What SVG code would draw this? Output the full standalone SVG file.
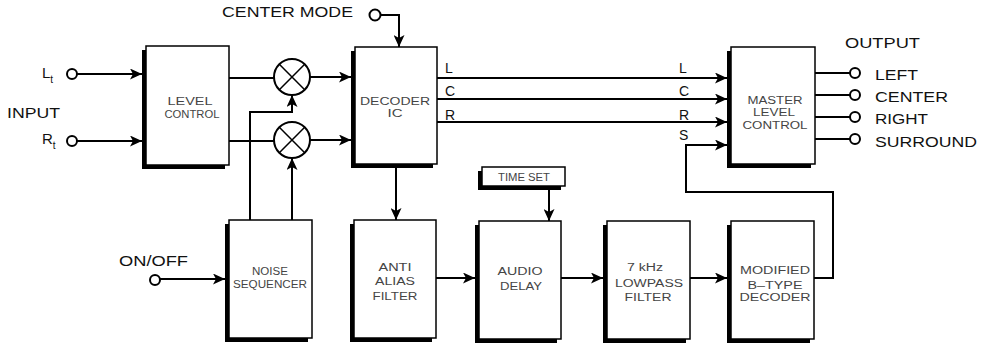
<svg xmlns="http://www.w3.org/2000/svg" width="986" height="346" viewBox="0 0 986 346">
<defs>
<marker id="ar" markerUnits="userSpaceOnUse" markerWidth="13" markerHeight="11" refX="12" refY="5.5" orient="auto">
<path d="M0,0 L12,5.5 L0,11 L3,5.5 z" fill="#000"/>
</marker>
</defs>
<style>
.sh{fill:#000}
.bx{fill:#fff;stroke:#000;stroke-width:1.5}
.w{fill:none;stroke:#000;stroke-width:2}
.a{fill:none;stroke:#000;stroke-width:2;marker-end:url(#ar)}
.t{font-family:"Liberation Sans",Arial,sans-serif;font-size:15px;fill:#111}
.s{font-family:"Liberation Sans",Arial,sans-serif;font-size:14px;fill:#111}
.b{font-family:"Liberation Sans",Arial,sans-serif;font-size:10px;fill:#444;text-anchor:middle}
.term{fill:#fff;stroke:#000;stroke-width:2}
</style>
<rect width="986" height="346" fill="#fff"/>

<g id="connectors">
<line class="a" x1="77" y1="74" x2="142" y2="74"/>
<line class="a" x1="77" y1="141" x2="142" y2="141"/>
<line class="w" x1="229" y1="78" x2="274" y2="78"/>
<line class="w" x1="229" y1="141" x2="274" y2="141"/>
<line class="a" x1="310" y1="77" x2="351" y2="77"/>
<line class="a" x1="310" y1="140" x2="351" y2="140"/>
<polyline class="a" points="250,220 250,112 292,112 292,95"/>
<line class="a" x1="292" y1="220" x2="292" y2="158"/>
<polyline class="a" points="381,15 399,15 399,47"/>
<line class="a" x1="437" y1="78" x2="727" y2="78"/>
<line class="a" x1="437" y1="99" x2="727" y2="99"/>
<line class="a" x1="437" y1="122" x2="727" y2="122"/>
<polyline class="a" points="814,278 833,278 833,192 686,192 686,145 727,145"/>
<line class="w" x1="815" y1="73" x2="850" y2="73"/>
<line class="w" x1="815" y1="95" x2="850" y2="95"/>
<line class="w" x1="815" y1="117" x2="850" y2="117"/>
<line class="w" x1="815" y1="139" x2="850" y2="139"/>
<line class="a" x1="396" y1="168" x2="396" y2="220"/>
<line class="a" x1="549" y1="186" x2="549" y2="221"/>
<line class="a" x1="160" y1="279" x2="225" y2="279"/>
<line class="a" x1="436" y1="278" x2="475" y2="278"/>
<line class="a" x1="561" y1="278" x2="603" y2="278"/>
<line class="a" x1="690" y1="278" x2="727" y2="278"/>
</g>

<g id="terminals">
<circle class="term" cx="72" cy="74" r="5"/>
<circle class="term" cx="72" cy="141" r="5"/>
<circle class="term" cx="375" cy="15" r="5.5"/>
<circle class="term" cx="155" cy="280" r="5"/>
<circle class="term" cx="855" cy="73" r="5"/>
<circle class="term" cx="855" cy="95" r="5"/>
<circle class="term" cx="855" cy="117" r="5"/>
<circle class="term" cx="855" cy="139" r="5"/>
</g>

<g id="mult1">
<circle cx="292" cy="77" r="18" fill="#fff" stroke="#000" stroke-width="2"/>
<path d="M279.3,64.3 L304.7,89.7 M304.7,64.3 L279.3,89.7" stroke="#000" stroke-width="1.5"/>
</g>
<g id="mult2">
<circle cx="292" cy="140" r="18" fill="#fff" stroke="#000" stroke-width="2"/>
<path d="M279.3,127.3 L304.7,152.7 M304.7,127.3 L279.3,152.7" stroke="#000" stroke-width="1.5"/>
</g>

<g id="level-control">
<rect class="sh" x="142" y="50" width="83" height="119"/>
<rect class="bx" x="146" y="46" width="83" height="119"/>
<text class="b" x="190" y="105" textLength="45" lengthAdjust="spacingAndGlyphs">LEVEL</text>
<text class="b" x="192" y="118" textLength="55" lengthAdjust="spacingAndGlyphs">CONTROL</text>
</g>

<g id="decoder-ic">
<rect class="sh" x="351" y="51" width="82" height="117"/>
<rect class="bx" x="355" y="47" width="82" height="117"/>
<text class="b" x="395" y="105" textLength="70" lengthAdjust="spacingAndGlyphs">DECODER</text>
<text class="b" x="395" y="117" textLength="15" lengthAdjust="spacingAndGlyphs">IC</text>
</g>

<g id="master-level-control">
<rect class="sh" x="727" y="51" width="84" height="117"/>
<rect class="bx" x="731" y="47" width="84" height="117"/>
<text class="b" x="775" y="104" textLength="55" lengthAdjust="spacingAndGlyphs">MASTER</text>
<text class="b" x="774" y="116" textLength="42" lengthAdjust="spacingAndGlyphs">LEVEL</text>
<text class="b" x="775" y="129" textLength="65" lengthAdjust="spacingAndGlyphs">CONTROL</text>
</g>

<g id="noise-sequencer">
<rect class="sh" x="225" y="224" width="83" height="118"/>
<rect class="bx" x="229" y="220" width="83" height="118"/>
<text class="b" x="270" y="275" textLength="36" lengthAdjust="spacingAndGlyphs">NOISE</text>
<text class="b" x="270" y="288" textLength="74" lengthAdjust="spacingAndGlyphs">SEQUENCER</text>
</g>

<g id="anti-alias-filter">
<rect class="sh" x="350" y="224" width="82" height="118"/>
<rect class="bx" x="354" y="220" width="82" height="118"/>
<text class="b" x="395" y="271" textLength="33" lengthAdjust="spacingAndGlyphs">ANTI</text>
<text class="b" x="395" y="285" textLength="40" lengthAdjust="spacingAndGlyphs">ALIAS</text>
<text class="b" x="395" y="300" textLength="45" lengthAdjust="spacingAndGlyphs">FILTER</text>
</g>

<g id="time-set">
<rect class="sh" x="478" y="171" width="83" height="19"/>
<rect class="bx" x="482" y="167" width="83" height="19"/>
<text class="b" x="524" y="181" font-size="9" textLength="52" lengthAdjust="spacingAndGlyphs">TIME SET</text>
</g>

<g id="audio-delay">
<rect class="sh" x="475" y="225" width="82" height="118"/>
<rect class="bx" x="479" y="221" width="82" height="118"/>
<text class="b" x="520" y="275" textLength="45" lengthAdjust="spacingAndGlyphs">AUDIO</text>
<text class="b" x="521" y="290" textLength="42" lengthAdjust="spacingAndGlyphs">DELAY</text>
</g>

<g id="lowpass-filter">
<rect class="sh" x="603" y="225" width="83" height="118"/>
<rect class="bx" x="607" y="221" width="83" height="118"/>
<text class="b" x="645" y="271" textLength="36" lengthAdjust="spacingAndGlyphs">7 kHz</text>
<text class="b" x="649" y="287" textLength="68" lengthAdjust="spacingAndGlyphs">LOWPASS</text>
<text class="b" x="648" y="301" textLength="47" lengthAdjust="spacingAndGlyphs">FILTER</text>
</g>

<g id="b-type-decoder">
<rect class="sh" x="727" y="225" width="83" height="118"/>
<rect class="bx" x="731" y="221" width="83" height="118"/>
<text class="b" x="775" y="274" textLength="70" lengthAdjust="spacingAndGlyphs">MODIFIED</text>
<text class="b" x="775" y="289" textLength="55" lengthAdjust="spacingAndGlyphs">B–TYPE</text>
<text class="b" x="775" y="301" textLength="71" lengthAdjust="spacingAndGlyphs">DECODER</text>
</g>

<g id="labels">
<text class="t" x="222" y="17" textLength="131" lengthAdjust="spacingAndGlyphs">CENTER MODE</text>
<text class="t" x="7" y="118" textLength="53" lengthAdjust="spacingAndGlyphs">INPUT</text>
<text class="t" x="42" y="78" font-size="16">L<tspan font-size="10" dy="5">t</tspan></text>
<text class="t" x="42" y="144" font-size="16">R<tspan font-size="10" dy="5">t</tspan></text>
<text class="t" x="119" y="266" textLength="69" lengthAdjust="spacingAndGlyphs">ON/OFF</text>
<text class="t" x="845" y="48" textLength="75" lengthAdjust="spacingAndGlyphs">OUTPUT</text>
<text class="t" x="875" y="80" textLength="43" lengthAdjust="spacingAndGlyphs">LEFT</text>
<text class="t" x="875" y="102" textLength="73" lengthAdjust="spacingAndGlyphs">CENTER</text>
<text class="t" x="875" y="124" textLength="53" lengthAdjust="spacingAndGlyphs">RIGHT</text>
<text class="t" x="875" y="147" textLength="102" lengthAdjust="spacingAndGlyphs">SURROUND</text>
<text class="s" x="445" y="73">L</text>
<text class="s" x="445" y="96">C</text>
<text class="s" x="445" y="120">R</text>
<text class="s" x="679" y="73">L</text>
<text class="s" x="679" y="96">C</text>
<text class="s" x="679" y="120">R</text>
<text class="s" x="679" y="140">S</text>
</g>
</svg>
